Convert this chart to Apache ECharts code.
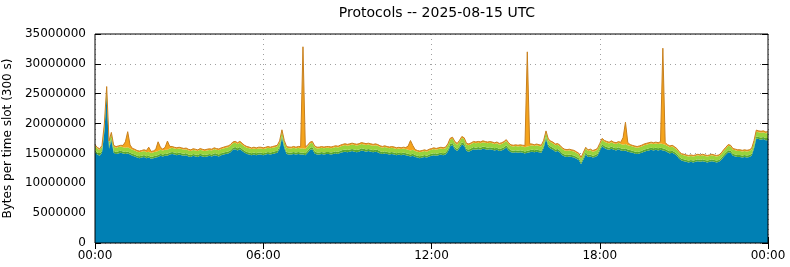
<!DOCTYPE html>
<html>
<head>
<meta charset="utf-8">
<script src="https://cdn.jsdelivr.net/npm/echarts@6/dist/echarts.min.js"></script>
<style>html,body{margin:0;padding:0;background:#fff}#c{width:790px;height:267px}</style>
</head>
<body>
<div id="c"></div>
<script>
// values in millions of bytes per 5-minute slot, 00:00 .. 24:00
const tickLabels = ['00:00', '06:00', '12:00', '18:00', '00:00'];
const yTicks = [0, 5000000, 10000000, 15000000, 20000000, 25000000, 30000000, 35000000];
const seriesNames = ['TCP', 'ICMP', 'UDP', 'Other'];

const tcp = [
15.2,14.8,14.6,15.1,18.6,24.8,15.8,17.2,15.1,14.9,15.0,15.1,
15.0,14.9,15.0,14.8,14.6,14.5,14.3,14.2,14.3,14.4,14.2,14.3,
14.1,14.2,14.3,14.4,14.6,14.5,14.6,14.6,14.8,14.9,14.8,14.7,
14.8,14.7,14.6,14.7,14.5,14.4,14.6,14.5,14.4,14.6,14.5,14.4,
14.5,14.6,14.5,14.7,14.6,14.5,14.7,14.8,14.9,15.0,15.2,15.6,
15.7,15.5,15.7,15.4,15.1,14.9,14.8,14.7,14.8,14.7,14.8,14.8,
14.7,14.8,14.9,14.8,14.9,15.0,15.1,15.8,17.6,15.9,14.9,14.8,
14.8,14.9,14.8,14.9,14.8,14.8,14.7,15.1,15.6,15.7,15.0,14.8,
14.8,14.9,14.8,14.9,14.9,14.8,14.9,15.0,14.9,15.1,15.2,15.3,
15.2,15.3,15.4,15.3,15.2,15.3,15.5,15.4,15.3,15.4,15.3,15.2,
15.3,15.2,15.0,14.9,15.0,14.9,14.8,14.9,14.8,14.7,14.8,14.7,
14.8,14.7,14.6,14.5,14.6,14.4,14.3,14.2,14.3,14.4,14.3,14.5,
14.6,14.7,14.6,14.7,14.8,14.7,14.8,15.3,16.2,16.4,15.7,15.4,
15.9,16.5,16.3,15.4,15.3,15.5,15.7,15.6,15.7,15.6,15.8,15.7,
15.6,15.7,15.6,15.5,15.6,15.4,15.5,15.7,16.0,15.5,15.2,15.1,
15.2,15.1,15.2,15.1,15.0,15.1,15.2,15.3,15.2,15.3,15.2,15.1,
15.9,17.4,16.1,15.8,15.6,15.3,15.4,15.1,14.7,14.5,14.4,14.5,
14.4,14.3,14.1,13.9,13.2,14.0,14.8,14.4,14.5,14.3,14.4,14.6,
15.4,16.2,15.9,15.7,15.6,15.8,15.6,15.5,15.7,15.5,15.4,15.5,
15.3,15.2,15.1,15.0,14.9,15.0,15.1,15.3,15.4,15.5,15.6,15.5,
15.6,15.5,15.6,15.5,15.4,15.2,15.0,15.1,14.9,14.6,14.1,13.8,
13.7,13.6,13.5,13.6,13.5,13.6,13.7,13.6,13.7,13.6,13.5,13.6,
13.7,13.6,13.5,13.6,13.9,14.4,14.8,15.2,15.1,14.6,14.5,14.4,
14.4,14.3,14.4,14.3,14.4,14.6,15.8,17.5,17.4,17.3,17.4,17.2,
17.2];

const icmp = [
0.35,0.34,0.33,0.35,0.38,0.40,0.36,0.37,0.35,0.34,0.35,0.34,
0.34,0.35,0.34,0.33,0.34,0.33,0.32,0.33,0.32,0.33,0.32,0.33,
0.32,0.33,0.32,0.33,0.34,0.33,0.34,0.33,0.34,0.35,0.34,0.34,
0.34,0.33,0.34,0.33,0.32,0.33,0.32,0.33,0.32,0.33,0.32,0.33,
0.33,0.32,0.33,0.34,0.33,0.34,0.33,0.34,0.35,0.34,0.35,0.36,
0.36,0.35,0.36,0.35,0.34,0.35,0.34,0.33,0.34,0.33,0.34,0.34,
0.34,0.33,0.34,0.35,0.34,0.35,0.34,0.36,0.38,0.35,0.34,0.35,
0.34,0.35,0.34,0.35,0.34,0.35,0.34,0.35,0.36,0.36,0.35,0.34,
0.34,0.35,0.34,0.35,0.34,0.35,0.36,0.35,0.36,0.35,0.36,0.36,
0.36,0.35,0.36,0.37,0.36,0.37,0.36,0.37,0.36,0.35,0.36,0.35,
0.35,0.36,0.35,0.34,0.35,0.34,0.35,0.34,0.35,0.34,0.33,0.34,
0.34,0.33,0.34,0.33,0.34,0.33,0.32,0.33,0.32,0.33,0.32,0.33,
0.33,0.34,0.33,0.34,0.33,0.34,0.35,0.36,0.37,0.36,0.35,0.35,
0.36,0.37,0.36,0.35,0.36,0.35,0.36,0.37,0.36,0.37,0.36,0.36,
0.36,0.35,0.36,0.35,0.36,0.35,0.36,0.35,0.36,0.35,0.34,0.35,
0.34,0.35,0.34,0.35,0.34,0.35,0.34,0.35,0.34,0.35,0.34,0.35,
0.36,0.38,0.36,0.35,0.36,0.35,0.34,0.35,0.34,0.33,0.34,0.33,
0.33,0.34,0.33,0.32,0.31,0.33,0.34,0.33,0.34,0.33,0.34,0.34,
0.35,0.36,0.35,0.36,0.35,0.36,0.35,0.36,0.35,0.36,0.35,0.36,
0.35,0.36,0.35,0.34,0.35,0.34,0.35,0.36,0.35,0.36,0.35,0.36,
0.35,0.36,0.35,0.36,0.35,0.34,0.35,0.34,0.33,0.34,0.33,0.32,
0.32,0.31,0.32,0.31,0.32,0.31,0.32,0.31,0.32,0.31,0.32,0.31,
0.32,0.31,0.32,0.31,0.32,0.33,0.34,0.35,0.34,0.33,0.34,0.33,
0.33,0.34,0.33,0.34,0.33,0.34,0.36,0.38,0.37,0.38,0.37,0.38,
0.38];

const udp = [
0.70,0.68,0.66,0.69,0.72,0.75,0.71,0.73,0.70,0.69,0.71,0.70,
0.70,0.69,0.70,0.68,0.69,0.67,0.66,0.67,0.66,0.67,0.66,0.67,
0.66,0.67,0.66,0.67,0.68,0.67,0.68,0.69,0.68,0.70,0.69,0.70,
0.69,0.70,0.69,0.68,0.67,0.68,0.67,0.68,0.67,0.68,0.67,0.68,
0.68,0.67,0.68,0.69,0.68,0.69,0.70,0.69,0.70,0.71,0.72,0.73,
0.73,0.72,0.73,0.72,0.71,0.70,0.71,0.70,0.69,0.70,0.69,0.70,
0.69,0.70,0.71,0.70,0.71,0.70,0.71,0.72,0.74,0.71,0.70,0.71,
0.70,0.71,0.70,0.71,0.70,0.71,0.70,0.71,0.72,0.73,0.71,0.70,
0.71,0.70,0.71,0.70,0.71,0.72,0.71,0.72,0.73,0.72,0.73,0.74,
0.73,0.74,0.73,0.74,0.75,0.74,0.73,0.74,0.75,0.74,0.73,0.74,
0.73,0.72,0.71,0.72,0.71,0.70,0.71,0.70,0.71,0.70,0.69,0.70,
0.69,0.70,0.69,0.68,0.69,0.68,0.67,0.68,0.67,0.68,0.67,0.68,
0.68,0.69,0.70,0.69,0.70,0.71,0.70,0.72,0.74,0.73,0.72,0.71,
0.72,0.74,0.73,0.72,0.71,0.72,0.73,0.72,0.73,0.74,0.73,0.72,
0.73,0.72,0.73,0.72,0.73,0.72,0.71,0.72,0.73,0.71,0.70,0.71,
0.70,0.71,0.70,0.71,0.70,0.71,0.72,0.71,0.72,0.71,0.72,0.71,
0.72,0.75,0.73,0.72,0.71,0.72,0.71,0.70,0.69,0.68,0.69,0.68,
0.68,0.67,0.66,0.65,0.64,0.66,0.68,0.67,0.68,0.67,0.68,0.69,
0.71,0.73,0.72,0.73,0.72,0.73,0.72,0.71,0.72,0.71,0.72,0.71,
0.72,0.71,0.70,0.69,0.70,0.71,0.72,0.71,0.72,0.73,0.72,0.73,
0.72,0.73,0.72,0.71,0.72,0.71,0.70,0.71,0.70,0.69,0.67,0.66,
0.66,0.65,0.66,0.65,0.66,0.65,0.66,0.65,0.66,0.65,0.66,0.65,
0.66,0.65,0.66,0.65,0.66,0.68,0.70,0.72,0.71,0.69,0.68,0.69,
0.68,0.69,0.68,0.69,0.68,0.70,0.74,0.78,0.77,0.78,0.77,0.78,
0.78];

const other = [
0.20,0.19,0.18,0.20,0.22,0.25,0.21,0.22,0.20,0.21,0.20,0.22,
0.30,1.00,2.60,0.60,0.22,0.20,0.21,0.20,0.22,0.21,0.30,0.75,
0.25,0.22,0.40,1.55,0.40,0.22,0.40,1.45,0.35,0.21,0.20,0.21,
0.20,0.21,0.20,0.19,0.20,0.19,0.20,0.19,0.20,0.21,0.20,0.19,
0.20,0.19,0.20,0.21,0.20,0.21,0.20,0.21,0.22,0.21,0.22,0.23,
0.23,0.22,0.23,0.22,0.21,0.20,0.21,0.20,0.21,0.20,0.21,0.20,
0.21,0.20,0.21,0.20,0.21,0.20,0.21,0.22,0.24,0.21,0.20,0.21,
0.20,0.21,0.20,0.21,0.30,17.00,0.35,0.22,0.21,0.22,0.21,0.20,
0.21,0.20,0.21,0.20,0.21,0.20,0.21,0.22,0.21,0.22,0.23,0.22,
0.23,0.22,0.23,0.22,0.23,0.22,0.23,0.22,0.23,0.22,0.23,0.22,
0.22,0.21,0.22,0.21,0.22,0.21,0.22,0.21,0.22,0.21,0.20,0.21,
0.21,0.25,0.60,1.65,0.70,0.25,0.20,0.19,0.20,0.19,0.20,0.19,
0.20,0.21,0.20,0.21,0.20,0.21,0.20,0.22,0.23,0.22,0.21,0.22,
0.22,0.23,0.22,0.21,0.22,0.21,0.22,0.23,0.22,0.23,0.22,0.21,
0.22,0.21,0.22,0.21,0.22,0.21,0.22,0.21,0.22,0.21,0.20,0.21,
0.20,0.21,0.20,0.21,0.30,15.85,0.35,0.21,0.20,0.21,0.20,0.21,
0.22,0.24,0.22,0.21,0.22,0.21,0.20,0.21,0.20,0.19,0.20,0.19,
0.19,0.20,0.19,0.18,0.18,0.19,0.20,0.19,0.20,0.19,0.20,0.20,
0.21,0.22,0.21,0.22,0.21,0.22,0.21,0.22,0.21,0.30,1.20,3.65,
0.45,0.21,0.20,0.21,0.20,0.21,0.22,0.21,0.22,0.21,0.22,0.21,
0.22,0.21,0.30,16.05,0.35,0.21,0.20,0.21,0.20,0.19,0.19,0.18,
0.18,0.19,0.18,0.19,0.18,0.19,0.18,0.19,0.18,0.19,0.18,0.19,
0.18,0.19,0.18,0.19,0.19,0.20,0.21,0.22,0.21,0.20,0.20,0.20,
0.20,0.19,0.20,0.19,0.20,0.21,0.23,0.25,0.24,0.25,0.24,0.25,
0.25];

const MB = 1000000;
const SLOTS_PER_TICK = 72;
const slots = tcp.map((_, i) => String(i));
const toBytes = arr => arr.map(v => Math.round(v * MB));
const isTick = idx => idx % SLOTS_PER_TICK === 0;

const FONT = 'DejaVu Sans';
const chart = echarts.init(document.getElementById('c'), null, {renderer: 'canvas'});

const colors = ['#0080b4', '#5aa832', '#98d43c', '#f5a41c'];
const lineColors = ['#0080b4', '#5aa832', '#98d43c', '#c8801e'];
const layers = [tcp, icmp, udp, other];

const tickY = {show: true, inside: true, length: 6, lineStyle: {color: '#000', width: 1}};
const tickX = {show: true, inside: true, length: 6, interval: (idx) => isTick(idx), lineStyle: {color: '#000', width: 1}};
const gridLine = {show: true, lineStyle: {color: '#a0a0a0', width: 1, type: [1, 4]}};

chart.setOption({
  animation: false,
  backgroundColor: '#fff',
  title: {
    text: 'Protocols -- 2025-08-15 UTC',
    left: 432, top: 1, textAlign: 'center',
    textStyle: {fontFamily: FONT, fontSize: 14, fontWeight: 'normal', color: '#000'}
  },
  grid: {left: 95, right: 22, top: 34, bottom: 24, show: true, borderColor: '#000', borderWidth: 1,
         backgroundColor: 'transparent', z: 10, containLabel: false, outerBoundsMode: 'none'},
  xAxis: [
    {
      type: 'category', data: slots, boundaryGap: false, position: 'bottom',
      axisLine: {show: false}, axisTick: tickX,
      splitLine: Object.assign({interval: (idx) => isTick(idx)}, gridLine),
      axisLabel: {fontFamily: FONT, fontSize: 12, color: '#000', margin: 7,
        interval: (idx) => isTick(idx),
        formatter: (v, idx) => tickLabels[Math.round(idx / SLOTS_PER_TICK)]}
    },
    {
      type: 'category', data: slots, boundaryGap: false, position: 'top',
      axisLine: {show: false}, axisTick: tickX, splitLine: {show: false}, axisLabel: {show: false}
    }
  ],
  yAxis: [
    {
      type: 'value', min: yTicks[0], max: yTicks[yTicks.length - 1], interval: yTicks[1] - yTicks[0],
      position: 'left',
      name: 'Bytes per time slot (300 s)', nameLocation: 'middle', nameGap: 74, nameRotate: 90,
      nameTextStyle: {fontFamily: FONT, fontSize: 12, color: '#000'},
      axisLine: {show: false}, axisTick: tickY, splitLine: gridLine,
      axisLabel: {fontFamily: FONT, fontSize: 12, color: '#000', margin: 9, formatter: v => String(v)}
    },
    {
      type: 'value', min: yTicks[0], max: yTicks[yTicks.length - 1], interval: yTicks[1] - yTicks[0],
      position: 'right',
      axisLine: {show: false}, axisTick: tickY, splitLine: {show: false}, axisLabel: {show: false}
    }
  ],
  series: layers.map((arr, k) => ({
    name: seriesNames[k],
    type: 'line', stack: 'total', xAxisIndex: 0, yAxisIndex: 0,
    data: toBytes(arr), symbol: 'none', smooth: false,
    lineStyle: {width: k === 3 ? 1 : 0, color: lineColors[k]},
    areaStyle: {color: colors[k], opacity: 1},
    itemStyle: {color: colors[k]},
    z: 2 + k
  }))
});
</script>
</body>
</html>
